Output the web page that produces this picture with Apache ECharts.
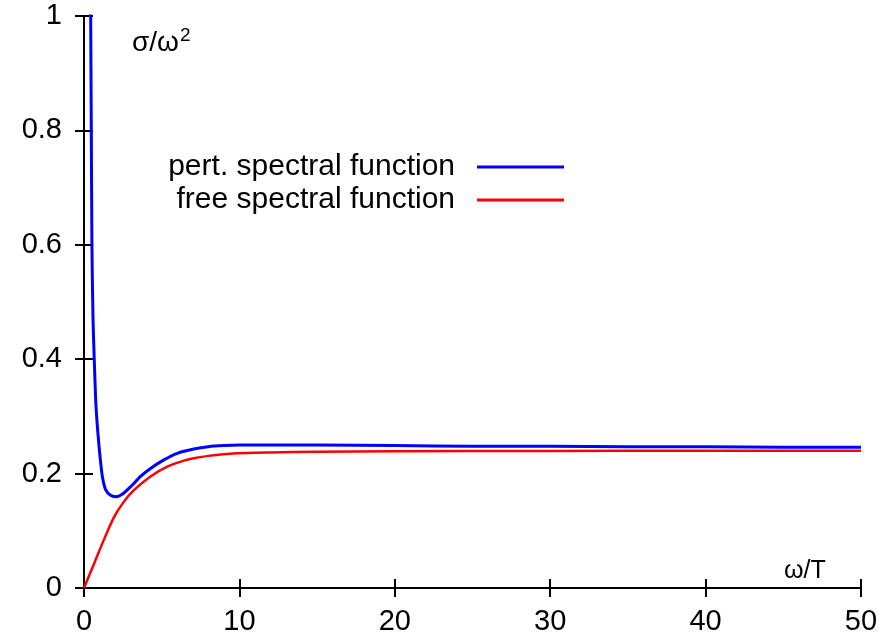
<!DOCTYPE html>
<html>
<head>
<meta charset="utf-8">
<script src="https://cdn.jsdelivr.net/npm/echarts@6/dist/echarts.min.js"></script>
<style>
  html, body { margin: 0; padding: 0; background: #fff; }
  #chart { width: 896px; height: 636px; }
</style>
</head>
<body>
<div id="chart"></div>
<script>
// omega/T positions and sigma/omega^2 values
var omegaPert = [0.42, 0.43, 0.47, 0.51, 0.58, 0.66, 0.75, 0.84, 0.96, 1.07, 1.18, 1.39, 1.71, 2.04, 2.46, 3.0, 3.64, 4.28, 5.14, 6.0, 7.07, 8.0, 9.0, 10, 12, 15, 20, 25, 30, 35, 40, 45, 50];
var pertValues = [1.05, 1.0, 0.80, 0.60, 0.47, 0.40, 0.33, 0.29, 0.25, 0.22, 0.195, 0.172, 0.162, 0.1597, 0.164, 0.177, 0.195, 0.209, 0.224, 0.2355, 0.243, 0.247, 0.249, 0.25, 0.25, 0.25, 0.249, 0.248, 0.248, 0.247, 0.247, 0.246, 0.246];

var omegaFree = [0, 0.64, 1.29, 1.93, 2.57, 3.21, 4.28, 5.36, 6.43, 7.07, 8.0, 9.8, 12, 15, 20, 30, 40, 50];
var freeValues = [0, 0.042, 0.085, 0.124, 0.151, 0.171, 0.195, 0.212, 0.2226, 0.2267, 0.231, 0.2355, 0.237, 0.238, 0.239, 0.2395, 0.24, 0.24];

var xTicks = [0, 10, 20, 30, 40, 50];
var yTicks = [0, 0.2, 0.4, 0.6, 0.8, 1];

var seriesNames = ['pert. spectral function', 'free spectral function'];

function zip(xs, ys) {
  return xs.map(function (x, i) { return [x, ys[i]]; });
}

var font = 'Liberation Sans, Arial, sans-serif';

var tickStyle = { show: true, inside: true, length: 9, lineStyle: { color: '#000', width: 2 } };
var lineStyle = { show: true, lineStyle: { color: '#000', width: 2 } };

function keyEntry(name, top) {
  return {
    data: [name],
    right: 327, top: top,
    align: 'right',
    icon: 'rect',
    itemWidth: 87, itemHeight: 3,
    selectedMode: false,
    textStyle: { color: '#000', fontSize: 30, lineHeight: 30, fontFamily: font, padding: [0, 17, 0, 0] }
  };
}

var chart = echarts.init(document.getElementById('chart'));

var option = {
  animation: false,
  backgroundColor: '#fff',
  grid: { left: 84, right: 35, top: 16, bottom: 48 },
  xAxis: [{
    type: 'value',
    min: xTicks[0], max: xTicks[xTicks.length - 1], interval: 10,
    axisLine: lineStyle,
    axisTick: tickStyle,
    splitLine: { show: false },
    axisLabel: { color: '#000', fontSize: 29, fontFamily: font, margin: 19 }
  }, {
    type: 'value', position: 'top',
    min: xTicks[0], max: xTicks[xTicks.length - 1], interval: 10,
    axisLine: lineStyle,
    axisTick: tickStyle,
    splitLine: { show: false },
    axisLabel: { show: false }
  }],
  yAxis: [{
    type: 'value',
    min: yTicks[0], max: yTicks[yTicks.length - 1], interval: 0.2,
    axisLine: lineStyle,
    axisTick: tickStyle,
    splitLine: { show: false },
    axisLabel: { color: '#000', fontSize: 29, fontFamily: font, margin: 22 }
  }, {
    type: 'value', position: 'right',
    min: yTicks[0], max: yTicks[yTicks.length - 1], interval: 0.2,
    axisLine: lineStyle,
    axisTick: tickStyle,
    splitLine: { show: false },
    axisLabel: { show: false }
  }],
  // gnuplot-style key: text right-aligned, sample line on the right
  legend: [keyEntry(seriesNames[0], 147), keyEntry(seriesNames[1], 180)],
  graphic: [{
    type: 'text',
    left: 132, top: 26,
    style: {
      text: '{a|σ/ω}{s|2}',
      rich: {
        a: { fontSize: 28, fontFamily: font, fill: '#000', verticalAlign: 'bottom' },
        s: { fontSize: 19, fontFamily: font, fill: '#000', padding: [0, 0, 12, 1], verticalAlign: 'bottom' }
      }
    }
  }, {
    type: 'text',
    left: 784, top: 559,
    style: { text: 'ω/T', fontSize: 25, fontFamily: font, fill: '#000' }
  }],
  series: [{
    name: seriesNames[0],
    type: 'line',
    data: zip(omegaPert, pertValues),
    showSymbol: false,
    smooth: 0.25,
    clip: true,
    lineStyle: { color: '#0000ff', width: 3 },
    itemStyle: { color: '#0000ff' }
  }, {
    name: seriesNames[1],
    type: 'line',
    data: zip(omegaFree, freeValues),
    showSymbol: false,
    smooth: 0.25,
    clip: true,
    lineStyle: { color: '#ff0000', width: 2.5 },
    itemStyle: { color: '#ff0000' }
  }]
};

chart.setOption(option);
</script>
</body>
</html>
